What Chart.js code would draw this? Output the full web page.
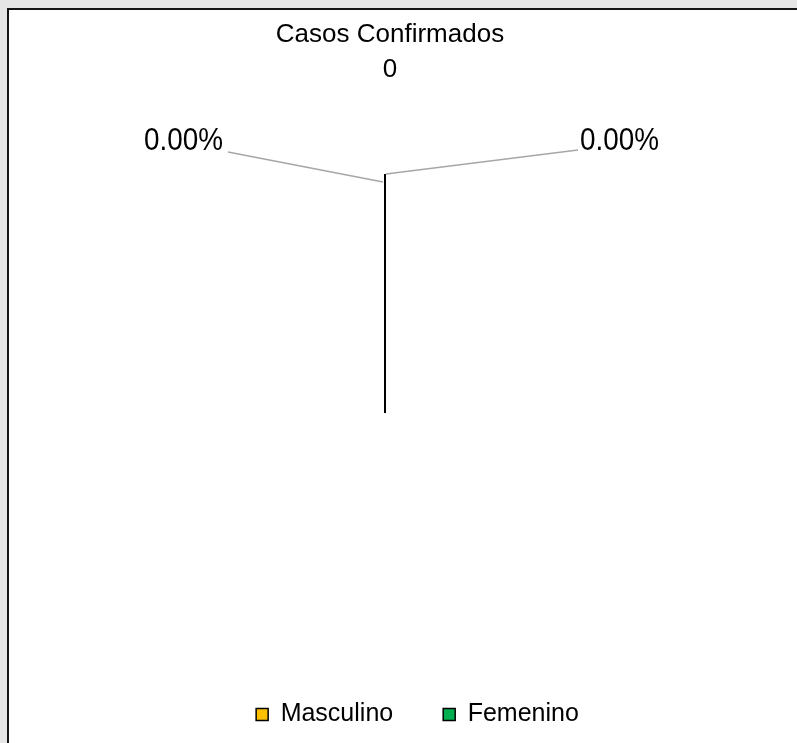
<!DOCTYPE html>
<html>
<head>
<meta charset="utf-8">
<script src="https://cdn.jsdelivr.net/npm/chart.js@4"></script>
<style>
  html, body { margin: 0; padding: 0; width: 797px; height: 743px; overflow: hidden; background: #e6e6e6; }
  #panel { position: absolute; left: 7px; top: 8px; width: 788px; height: 733px; background: #ffffff;
           border-left: 2px solid #151515; border-top: 2px solid #151515; }
  #c { display: block; }
</style>
</head>
<body>
<div id="panel"><canvas id="c" width="788" height="733"></canvas></div>
<script>
// ---- data ----
const chartTitle = 'Casos Confirmados';
const categories = ['Masculino', 'Femenino'];
const casos = [0, 0];
const sliceColors = ['#FFC000', '#00B050'];

const FONT = "'Liberation Sans', Arial, sans-serif";
const total = casos.reduce((a, b) => a + b, 0);

function pctText(v) {
  const p = total ? (v / total) * 100 : 0;
  return p.toFixed(2) + '%';
}

function narrowText(ctx, text, x, y, align) {
  ctx.save();
  ctx.translate(x, y);
  ctx.scale(0.87, 1);
  ctx.textAlign = align;
  ctx.textBaseline = 'middle';
  ctx.fillText(text, 0, 0);
  ctx.restore();
}

// draws the zero-width slice border line and outside labels with leader lines
const pieLabels = {
  id: 'pieLabels',
  afterLayout(chart) {
    // position title and legend like the reference
    const lg = chart.legend;
    if (lg) { lg.left += 32.5; lg.right += 32.5; }
    const tt = chart.titleBlock;
    if (tt) { tt.left += 5; tt.right += 5; }
  },
  afterDatasetsDraw(chart) {
    const ctx = chart.ctx;
    const meta = chart.getDatasetMeta(0);
    const ds = chart.data.datasets[0];
    ctx.save();
    ctx.font = '32px ' + FONT;
    ctx.fillStyle = '#000';
    meta.data.forEach((arc, i) => {
      const mid = (arc.startAngle + arc.endAngle) / 2;
      const ex = arc.x + Math.cos(mid) * arc.outerRadius;
      const ey = arc.y + Math.sin(mid) * arc.outerRadius;
      ctx.strokeStyle = '#a6a6a6';
      ctx.lineWidth = 1.5;
      ctx.beginPath();
      if (i === 0) {
        ctx.moveTo(ex + 1, ey);
        ctx.lineTo(ex + 193, ey - 24);
        ctx.stroke();
        narrowText(ctx, pctText(ds.data[i]), ex + 195, ey - 33, 'left');
      } else {
        ctx.moveTo(ex - 2, ey + 8);
        ctx.lineTo(ex - 157, ey - 22);
        ctx.stroke();
        narrowText(ctx, pctText(ds.data[i]), ex - 162, ey - 33, 'right');
      }
    });
    meta.data.forEach((arc) => {
      ctx.strokeStyle = '#000';
      ctx.lineWidth = 2;
      ctx.beginPath();
      ctx.moveTo(arc.x, arc.y);
      ctx.lineTo(arc.x + Math.cos(arc.startAngle) * arc.outerRadius,
                 arc.y + Math.sin(arc.startAngle) * arc.outerRadius);
      ctx.stroke();
    });
    ctx.restore();
  }
};

new Chart(document.getElementById('c'), {
  type: 'pie',
  data: {
    labels: categories,
    datasets: [{
      data: casos,
      backgroundColor: sliceColors,
      borderColor: '#000',
      borderWidth: 1,
      radius: 239
    }]
  },
  options: {
    responsive: false,
    animation: false,
    layout: { padding: { left: 0, right: 36, top: 0, bottom: 6 } },
    plugins: {
      title: {
        display: true,
        text: [chartTitle, String(total)],
        color: '#000',
        font: { family: FONT, size: 26, weight: 'normal', lineHeight: 1.35 },
        padding: { top: 7, bottom: 87 }
      },
      legend: {
        position: 'bottom',
        labels: {
          color: '#000',
          font: { family: FONT, size: 25 },
          boxWidth: 12,
          boxHeight: 12,
          padding: 50,
          generateLabels(chart) {
            return chart.data.labels.map((l, i) => ({
              text: l,
              fillStyle: sliceColors[i],
              strokeStyle: '#000',
              lineWidth: 1.5,
              hidden: false,
              index: i
            }));
          }
        }
      },
      tooltip: { enabled: false }
    }
  },
  plugins: [pieLabels]
});
</script>
</body>
</html>
